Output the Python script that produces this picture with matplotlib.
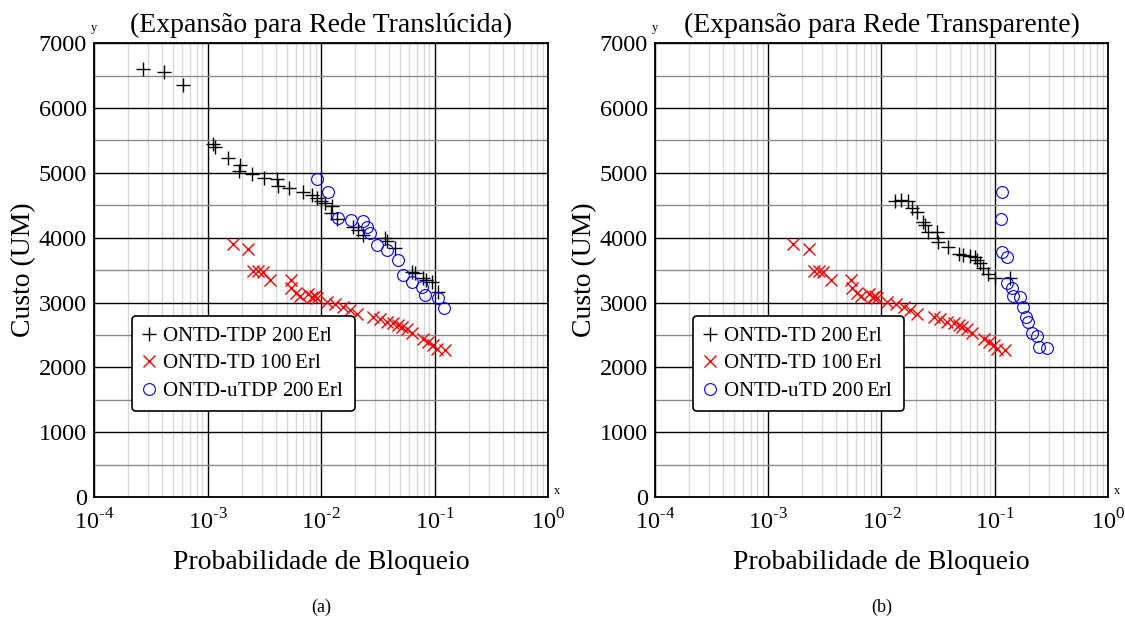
import numpy as np
import matplotlib
matplotlib.use('Agg')
import matplotlib.pyplot as plt
from matplotlib.ticker import LogLocator, MultipleLocator, NullFormatter, FuncFormatter

plt.rcParams['font.family'] = ['Liberation Serif', 'DejaVu Serif']
plt.rcParams['mathtext.fontset'] = 'custom'
plt.rcParams['mathtext.rm'] = 'Liberation Serif'

# ONTD-TD 100 Erl (same in both panels)
td100_x = [1.67e-3, 2.29e-3, 2.53e-3, 2.79e-3, 3.07e-3, 3.55e-3, 5.41e-3, 5.45e-3,
           6.03e-3, 6.53e-3, 7.73e-3, 8.33e-3, 8.85e-3, 9.16e-3, 1.12e-2, 1.33e-2,
           1.57e-2, 1.80e-2, 2.07e-2, 2.89e-2, 3.31e-2, 3.80e-2, 4.34e-2, 4.80e-2,
           5.14e-2, 5.69e-2, 6.30e-2, 7.96e-2, 8.81e-2, 9.75e-2, 0.1045, 0.124]
td100_y = [3910, 3820, 3490, 3490, 3470, 3340, 3350, 3230,
           3140, 3100, 3125, 3085, 3100, 3065, 3010, 2985,
           2935, 2885, 2820, 2780, 2740, 2705, 2680, 2650,
           2615, 2585, 2525, 2430, 2395, 2345, 2290, 2265]

# (a) ONTD-TDP 200 Erl
tdp200_x = [2.72e-4, 4.14e-4, 6.12e-4, 1.11e-3, 1.16e-3, 1.52e-3, 1.93e-3, 1.90e-3,
            2.45e-3, 3.15e-3, 4.07e-3, 4.21e-3, 5.26e-3, 6.99e-3, 8.28e-3, 9.16e-3,
            9.94e-3, 1.08e-2, 1.24e-2, 1.22e-2, 1.37e-2, 1.93e-2, 2.13e-2, 2.36e-2,
            3.66e-2, 3.84e-2, 4.49e-2, 6.30e-2, 6.73e-2, 7.96e-2, 8.41e-2, 9.44e-2,
            0.108]
tdp200_y = [6600, 6560, 6350, 5440, 5400, 5230, 5120, 5030,
            4990, 4920, 4910, 4800, 4760, 4710, 4655, 4605,
            4570, 4535, 4490, 4385, 4295, 4160, 4125, 4040,
            3990, 3950, 3835, 3475, 3450, 3385, 3355, 3320,
            3165]

# (a) ONTD-uTDP 200 Erl
utdp200_x = [9.16e-3, 1.14e-2, 1.42e-2, 1.84e-2, 2.36e-2, 2.53e-2, 2.70e-2, 3.10e-2,
             3.80e-2, 4.74e-2, 5.31e-2, 6.30e-2, 7.71e-2, 8.24e-2, 0.108, 0.120]
utdp200_y = [4900, 4710, 4300, 4280, 4260, 4170, 4065, 3885,
             3810, 3655, 3425, 3320, 3245, 3115, 3065, 2910]

# (b) ONTD-TD 200 Erl
td200_x = [1.32e-2, 1.48e-2, 1.73e-2, 1.85e-2, 2.05e-2, 2.32e-2, 2.43e-2, 2.60e-2,
           3.12e-2, 3.18e-2, 3.90e-2, 4.88e-2, 5.22e-2, 6.06e-2, 6.71e-2, 6.95e-2,
           7.43e-2, 7.94e-2, 8.79e-2, 0.1007, 0.137]
td200_y = [4565, 4575, 4570, 4460, 4400, 4235, 4195, 4090,
           4090, 3935, 3860, 3755, 3730, 3720, 3705, 3655,
           3605, 3525, 3435, 3380, 3385]

# (b) ONTD-uTD 200 Erl
utd200_x = [0.1156, 0.114, 0.1156, 0.128, 0.1295, 0.1416, 0.146, 0.1675,
            0.177, 0.189, 0.1985, 0.213, 0.238, 0.248, 0.292]
utd200_y = [4705, 4285, 3780, 3705, 3305, 3220, 3100, 3090,
            2935, 2780, 2705, 2525, 2485, 2315, 2295]

panels = [
    ('(Expansão para Rede Translúcida)', '(a)',
     [(tdp200_x, tdp200_y, 'ONTD-TDP 200$\\,$Erl'),
      (td100_x, td100_y, 'ONTD-TD 100$\\,$Erl'),
      (utdp200_x, utdp200_y, 'ONTD-uTDP 200$\\,$Erl')]),
    ('(Expansão para Rede Transparente)', '(b)',
     [(td200_x, td200_y, 'ONTD-TD 200$\\,$Erl'),
      (td100_x, td100_y, 'ONTD-TD 100$\\,$Erl'),
      (utd200_x, utd200_y, 'ONTD-uTD 200$\\,$Erl')]),
]


def decade_label(v, pos):
    # powers of ten with a plain hyphen in the exponent
    n = int(round(np.log10(v)))
    return '10$^{\\text{%d}}$' % n


fig = plt.figure(figsize=(11.25, 6.26), dpi=100)
rects = [[0.0836, 0.206, 0.4036, 0.725], [0.5822, 0.206, 0.4027, 0.725]]

for rect, (title, sub, series) in zip(rects, panels):
    ax = fig.add_axes(rect)
    ax.set_xscale('log')
    ax.set_xlim(1e-4, 1)
    ax.set_ylim(0, 7000)

    (bx, by, bl), (rx, ry, rl), (cx, cy, cl) = series
    ax.plot(bx, by, '+', color='black', ms=10, mew=1.0, label=bl, zorder=3)
    ax.plot(rx, ry, 'x', color='red', ms=8.5, mew=1.0, label=rl, zorder=3)
    ax.plot(cx, cy, 'o', mfc='none', mec='blue', ms=8.5, mew=0.8, label=cl, zorder=3)

    ax.xaxis.set_major_locator(LogLocator(base=10, numticks=10))
    ax.xaxis.set_major_formatter(FuncFormatter(decade_label))
    ax.xaxis.set_minor_locator(LogLocator(base=10, subs=np.arange(2, 10), numticks=20))
    ax.xaxis.set_minor_formatter(NullFormatter())
    ax.yaxis.set_major_locator(MultipleLocator(1000))
    ax.yaxis.set_minor_locator(MultipleLocator(500))

    ax.grid(which='major', axis='both', color='black', lw=1.0)
    ax.grid(which='minor', axis='y', color='#8c8c8c', lw=1.0)
    ax.grid(which='minor', axis='x', color='#d8d8d8', lw=1.0)
    ax.set_axisbelow(True)

    ax.tick_params(which='both', length=0, labelsize=17.5)
    ax.tick_params(axis='x', pad=9)
    ax.tick_params(axis='y', pad=5)
    for s in ax.spines.values():
        s.set_linewidth(1.3)

    ax.set_title(title, fontsize=20, pad=8)
    ax.set_ylabel('Custo (UM)', fontsize=20, labelpad=2)
    ax.set_xlabel('Probabilidade de Bloqueio', fontsize=20, labelpad=11)
    ax.text(1.02, 0.0, 'x', transform=ax.transAxes, fontsize=9, va='bottom', ha='center')
    ax.text(0.0, 1.02, 'y', transform=ax.transAxes, fontsize=9, va='bottom', ha='center')
    ax.text(0.5, -0.242, sub, transform=ax.transAxes, fontsize=13,
            ha='center', va='center')

    leg = ax.legend(loc='upper left', bbox_to_anchor=(0.084, 0.399), borderaxespad=0,
                    fontsize=15, frameon=True, fancybox=True, framealpha=1,
                    edgecolor='black', handlelength=0.6, handletextpad=0.35,
                    borderpad=0.5, labelspacing=0.38)
    leg.get_frame().set_linewidth(1.2)

fig.savefig('out.png', dpi=100)
